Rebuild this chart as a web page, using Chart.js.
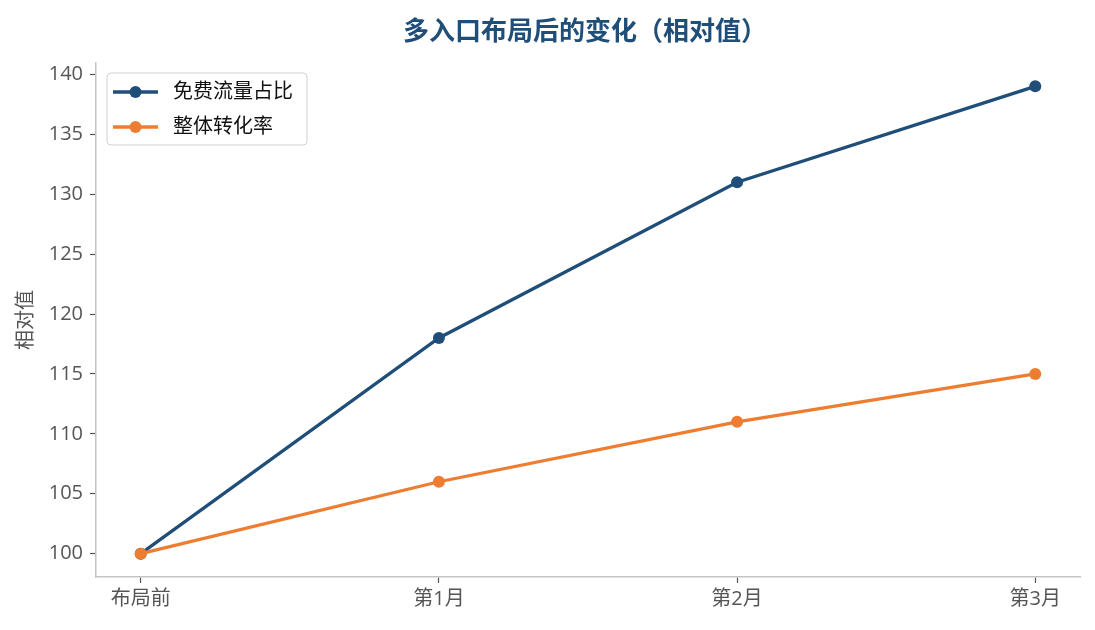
<!DOCTYPE html>
<html>
<head>
<meta charset="utf-8">
<script src="https://cdn.jsdelivr.net/npm/chart.js@4.4.1/dist/chart.umd.min.js"></script>
<style>
html,body{margin:0;padding:0;background:#fff;}
#wrap{width:1095px;height:630px;}
</style>
</head>
<body>
<div id="wrap"><canvas id="c" width="1095" height="630"></canvas></div>
<script>
const chartTitle = '多入口布局后的变化（相对值）';
const yAxisTitle = '相对值';
const categories = ['布局前', '第1月', '第2月', '第3月'];
const freeTrafficShare = [100, 118, 131, 139];
const overallConversion = [100, 106, 111, 115];
const yTickValues = [100, 105, 110, 115, 120, 125, 130, 135, 140];
const seriesNames = ['免费流量占比', '整体转化率'];

const FONT = '"Open Sans", "Noto Sans CJK SC", sans-serif';
const TFONT = '"Noto Sans CJK SC", sans-serif';
const BLUE = '#1f4e79';
const ORANGE = '#ed7d31';

const toPoints = arr => arr.map((v, i) => ({x: i, y: v}));

const titlePlugin = {
  id: 'customTitle',
  afterDraw(chart) {
    const ctx = chart.ctx, a = chart.chartArea;
    ctx.save();
    ctx.font = 'bold 26px ' + TFONT;
    ctx.fillStyle = BLUE;
    ctx.textAlign = 'center';
    ctx.textBaseline = 'middle';
    ctx.fillText(chartTitle, (a.left + a.right) / 2 - 3, 30);
    ctx.restore();
  }
};

const legendPlugin = {
  id: 'customLegend',
  afterDatasetsDraw(chart) {
    const ctx = chart.ctx;
    const x0 = 107, y0 = 73, w = 200, h = 72, r = 4;
    ctx.save();
    ctx.beginPath();
    ctx.moveTo(x0 + r, y0);
    ctx.arcTo(x0 + w, y0, x0 + w, y0 + h, r);
    ctx.arcTo(x0 + w, y0 + h, x0, y0 + h, r);
    ctx.arcTo(x0, y0 + h, x0, y0, r);
    ctx.arcTo(x0, y0, x0 + w, y0, r);
    ctx.closePath();
    ctx.fillStyle = 'rgba(255,255,255,0.85)';
    ctx.fill();
    ctx.strokeStyle = '#d0d0d0';
    ctx.lineWidth = 1;
    ctx.stroke();
    const items = chart.data.datasets.slice().sort((a, b) => a.legendIndex - b.legendIndex);
    items.forEach((ds, i) => {
      const y = 92 + i * 35;
      ctx.strokeStyle = ds.borderColor;
      ctx.lineWidth = 3.3;
      ctx.beginPath();
      ctx.moveTo(113, y);
      ctx.lineTo(158, y);
      ctx.stroke();
      ctx.fillStyle = ds.borderColor;
      ctx.beginPath();
      ctx.arc(135.5, y, 6, 0, Math.PI * 2);
      ctx.fill();
      ctx.fillStyle = '#111';
      ctx.font = '20px ' + FONT;
      ctx.textAlign = 'left';
      ctx.textBaseline = 'middle';
      ctx.fillText(ds.label, 173, y);
    });
    ctx.restore();
  }
};

new Chart(document.getElementById('c'), {
  type: 'line',
  data: {
    datasets: [
      {label: seriesNames[0], legendIndex: 0, order: 2, data: toPoints(freeTrafficShare), borderColor: BLUE, backgroundColor: BLUE,
       borderWidth: 3.3, pointRadius: 6, pointHoverRadius: 6, pointBorderWidth: 0, tension: 0},
      {label: seriesNames[1], legendIndex: 1, order: 1, data: toPoints(overallConversion), borderColor: ORANGE, backgroundColor: ORANGE,
       borderWidth: 3.3, pointRadius: 6, pointHoverRadius: 6, pointBorderWidth: 0, tension: 0}
    ]
  },
  options: {
    responsive: false,
    animation: false,
    devicePixelRatio: 1,
    layout: {padding: {top: 63, right: 15, left: 0, bottom: 0}},
    plugins: {legend: {display: false}, title: {display: false}, tooltip: {enabled: false}},
    scales: {
      x: {
        type: 'linear',
        min: -0.15, max: 3.15,
        afterBuildTicks: s => { s.ticks = categories.map((c, i) => ({value: i})); },
        afterFit: s => { s.height = 53; },
        ticks: {callback: v => categories[v], color: '#555', font: {family: FONT, size: 20}, padding: 4, maxRotation: 0},
        grid: {display: true, drawOnChartArea: false, drawTicks: true, tickLength: 6, color: '#555', tickWidth: 1.2},
        border: {color: '#c4c4c4', width: 1.5}
      },
      y: {
        min: 98.05, max: 140.95,
        afterBuildTicks: s => { s.ticks = yTickValues.map(v => ({value: v})); },
        afterFit: s => { s.width = 96; },
        ticks: {color: '#555', font: {family: FONT, size: 20}, padding: 7},
        grid: {display: true, drawOnChartArea: false, drawTicks: true, tickLength: 6, color: '#555', tickWidth: 1.2},
        border: {color: '#c4c4c4', width: 1.5},
        title: {display: true, text: yAxisTitle, color: '#555', font: {family: FONT, size: 20}, padding: {top: 14, bottom: 0}}
      }
    }
  },
  plugins: [titlePlugin, legendPlugin]
});
</script>
</body>
</html>
